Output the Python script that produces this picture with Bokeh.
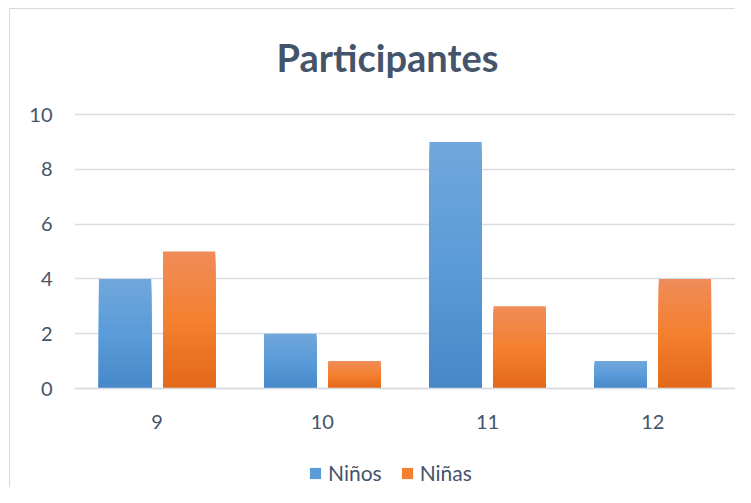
from bokeh.plotting import figure
from bokeh.models import FactorRange, Legend, LegendItem, ColumnDataSource, FixedTicker, Range1d, Label
from bokeh.transform import dodge
from bokeh.embed import file_html
from bokeh.resources import INLINE

# ---- data ----
categories = ["9", "10", "11", "12"]
ninos = [4, 2, 9, 1]
ninas = [5, 1, 3, 4]
series_names = ["Niños", "Niñas"]
y_ticks = [0, 2, 4, 6, 8, 10]
title_text = "Participantes"

# gradient stops (top, middle, bottom)
blue_stops = [(0x71, 0xA7, 0xDB), (0x5A, 0x9B, 0xD9), (0x47, 0x89, 0xC8)]
orange_stops = [(0xF0, 0x8C, 0x5A), (0xF4, 0x80, 0x2F), (0xE3, 0x69, 0x1A)]

FONT = "Lato"
TEXT = "#44546A"
GRID = "#D9DDE3"
FRAME_BORDER = "#D9D9D9"

# layout (pixels)
W, H = 735, 487
LEFT = 74
TOP_PX = 114        # where value 10 sits
ZERO_PX = 388       # where value 0 sits
TITLE_PX = 56       # title anchor
px_per_unit = (ZERO_PX - TOP_PX) / 10.0
y_end = 10 + TOP_PX / px_per_unit          # frame reaches the top edge (hosts title)
y_start = -(H - ZERO_PX) / px_per_unit     # frame reaches the bottom edge (hosts legend)
cat_px = (W - LEFT) / len(categories)

p = figure(x_range=FactorRange(*categories, range_padding=0), y_range=Range1d(y_start, y_end),
           width=W, height=H, output_backend="svg", toolbar_location=None,
           min_border_left=LEFT, min_border_right=0, min_border_top=0, min_border_bottom=0)
p.border_fill_color = None
p.styles = {"background": (
    f"linear-gradient({FRAME_BORDER},{FRAME_BORDER}) 9px 8px / 1px 100% no-repeat, "
    f"linear-gradient({FRAME_BORDER},{FRAME_BORDER}) 9px 8px / 100% 1px no-repeat, #ffffff")}
p.background_fill_color = None
p.outline_line_color = None

def lerp_color(stops, t):
    if t <= 0.5:
        a, b, u = stops[0], stops[1], t / 0.5
    else:
        a, b, u = stops[1], stops[2], (t - 0.5) / 0.5
    c = [round(a[i] + (b[i] - a[i]) * u) for i in range(3)]
    return "#%02x%02x%02x" % tuple(c)

N = 40
renderers = []
for vals, stops, off in [(ninos, blue_stops, -0.194), (ninas, orange_stops, 0.194)]:
    xs, tops, cols = [], [], []
    for cat, v in zip(categories, vals):
        for k in range(N):
            xs.append(cat)
            tops.append(v * (1 - k / N))
            cols.append(lerp_color(stops, (k + 0.5) / N))
    src = ColumnDataSource(dict(x=xs, top=tops, color=cols))
    r = p.vbar(x=dodge("x", off, range=p.x_range), top="top", bottom=0, width=0.316,
               source=src, fill_color="color", line_color=None)
    renderers.append(r)

# axes
p.yaxis.ticker = FixedTicker(ticks=y_ticks)
p.yaxis.axis_line_color = None
p.yaxis.major_tick_line_color = None
p.yaxis.minor_tick_line_color = None
p.yaxis.major_label_standoff = 16
p.yaxis.major_label_text_font = FONT
p.yaxis.major_label_text_font_size = "20px"
p.yaxis.major_label_text_color = TEXT

p.xaxis.fixed_location = 0
p.xaxis.axis_line_color = GRID
p.xaxis.axis_line_width = 1.5
p.xaxis.major_tick_line_color = None
p.xaxis.minor_tick_line_color = None
p.xaxis.major_label_standoff = 20
p.xaxis.major_label_text_font = FONT
p.xaxis.major_label_text_font_size = "20px"
p.xaxis.major_label_text_color = TEXT

p.xgrid.grid_line_color = None
p.ygrid.grid_line_color = GRID
p.ygrid.grid_line_width = 1.5

# chart title, centred on the chart area (slightly left of plot-area centre)
title_x = (387 - LEFT) / cat_px
title_y = 10 + (TOP_PX - TITLE_PX) / px_per_unit
p.add_layout(Label(x=title_x, y=title_y, text=title_text, text_align="center",
                   text_baseline="alphabetic", text_font=FONT, text_font_style="bold",
                   text_font_size="38px", text_color=TEXT))

items = [LegendItem(label=series_names[i], renderers=[renderers[i]], index=N // 2) for i in range(2)]
legend = Legend(items=items, orientation="horizontal", location=(234, 2),
                label_text_font=FONT, label_text_font_size="21px", label_text_color=TEXT,
                glyph_width=14, glyph_height=14, label_standoff=6, spacing=18,
                padding=0, margin=0, border_line_color=None, background_fill_alpha=0)
p.add_layout(legend, "center")

open("out.html", "w").write(file_html(p, INLINE))
